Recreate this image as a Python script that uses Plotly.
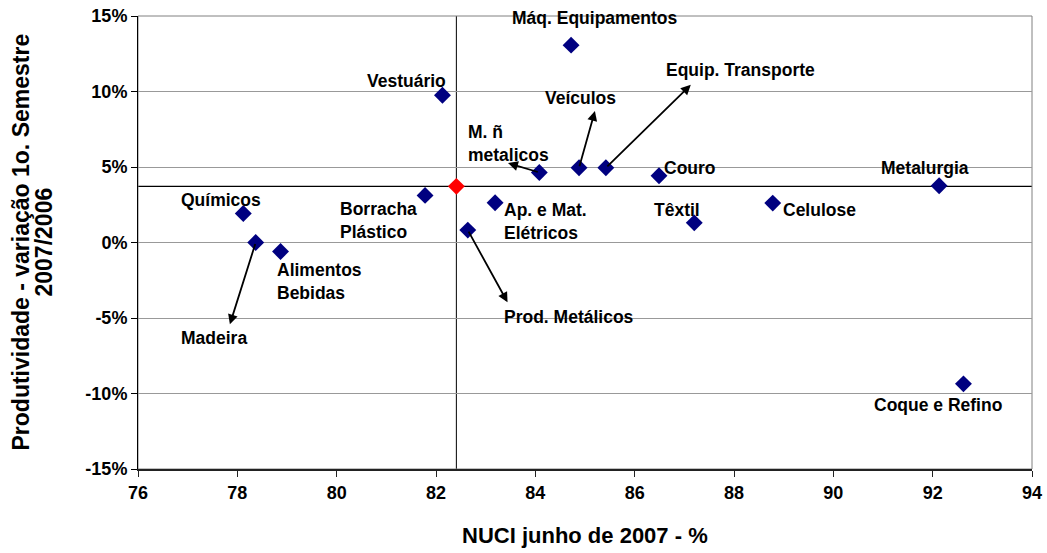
import plotly.graph_objects as go

# sectors: NUCI (x, %) and productivity change (y, %)
sectors = ['Químicos', 'Madeira', 'Alimentos<br>Bebidas', 'Borracha<br>Plástico', 'Vestuário',
           'Prod. Metálicos', 'Ap. e Mat.<br>Elétricos', 'M. ñ<br>metalicos', 'Máq. Equipamentos',
           'Veículos', 'Equip. Transporte', 'Couro', 'Têxtil', 'Celulose', 'Metalurgia',
           'Coque e Refino']
nuci = [78.12, 78.37, 78.87, 81.78, 82.13, 82.64, 83.19, 84.08, 84.72,
        84.88, 85.42, 86.49, 87.20, 88.78, 92.13, 92.62]
produtividade = [1.92, 0.0, -0.6, 3.12, 9.75, 0.82, 2.63, 4.64, 13.07,
                 4.95, 4.95, 4.42, 1.30, 2.61, 3.76, -9.36]

# industry average (red point)
media_x = [82.41]
media_y = [3.72]

# label placement (data units) and anchor
label_x = [77.67, 77.54, 78.76, 80.02, 81.41, 83.32, 83.32, 82.60, 85.21,
           84.90, 88.14, 87.12, 86.85, 89.72, 91.84, 92.11]
label_y = [2.81, -6.30, -2.58, 1.45, 10.72, -4.91, 1.41, 6.54, 14.88,
           9.58, 11.43, 4.93, 2.16, 2.16, 4.91, -10.78]
label_anchor = ['center', 'center', 'left', 'left', 'center', 'left', 'left', 'left', 'center',
                'center', 'center', 'center', 'center', 'center', 'center', 'center']

# arrows: sector index -> arrow head position
arrow_idx = [1, 5, 7, 9, 10]
arrow_head_x = [77.85, 83.44, 83.45, 85.20, 87.13]
arrow_head_y = [-5.42, -3.96, 5.26, 8.71, 10.44]

y_ticks = [-15, -10, -5, 0, 5, 10, 15]
y_ticktext = ['-15%', '-10%', '-5%', '0%', '5%', '10%', '15%']
x_ticks = [76, 78, 80, 82, 84, 86, 88, 90, 92, 94]
x_ticktext = ['76', '78', '80', '82', '84', '86', '88', '90', '92', '94']

FONT = 'Liberation Sans, Arial, sans-serif'

fig = go.Figure()

fig.add_trace(go.Scatter(
    x=nuci, y=produtividade, mode='markers',
    marker=dict(symbol='diamond', size=13, color='#000080'),
    hoverinfo='skip'
))
fig.add_trace(go.Scatter(
    x=media_x, y=media_y, mode='markers',
    marker=dict(symbol='diamond', size=13, color='#FF0000'),
    hoverinfo='skip'
))

# reference lines through the average
fig.add_vline(x=media_x[0], line=dict(color='#000000', width=1), layer='below')
fig.add_hline(y=media_y[0], line=dict(color='#000000', width=1.3), layer='below')

# plot area border
fig.add_shape(type='rect', xref='paper', yref='paper', x0=0, x1=1, y0=0, y1=1,
              line=dict(color='#808080', width=1), layer='below')

for name, lx, ly, anc in zip(sectors, label_x, label_y, label_anchor):
    fig.add_annotation(x=lx, y=ly, text='<b>%s</b>' % name, showarrow=False,
                       xanchor=anc, yanchor='middle', align='left',
                       font=dict(family=FONT, size=17.5, color='#000000'))

for i, hx, hy in zip(arrow_idx, arrow_head_x, arrow_head_y):
    fig.add_annotation(x=hx, y=hy, ax=nuci[i], ay=produtividade[i],
                       xref='x', yref='y', axref='x', ayref='y', text='',
                       showarrow=True, arrowhead=2, arrowsize=1.1, arrowwidth=1.8,
                       arrowcolor='#000000', standoff=0, startstandoff=0)

# axis titles
fig.add_annotation(xref='paper', yref='paper', x=0.5, y=0, yshift=-66, yanchor='middle',
                   text='<b>NUCI junho de 2007 - %</b>', showarrow=False,
                   font=dict(family=FONT, size=22, color='#000000'))
y_title_lines = ['Produtividade - variação 1o. Semestre', '2007/2006']
for line, shift in zip(y_title_lines, [-118, -95]):
    fig.add_annotation(xref='paper', yref='paper', x=0, y=0.5, xshift=shift, xanchor='center',
                       yanchor='middle', textangle=-90, text='<b>%s</b>' % line,
                       showarrow=False, font=dict(family=FONT, size=23, color='#000000'))

fig.update_xaxes(range=[76, 94], tickvals=x_ticks,
                 ticktext=['<b>%s</b>' % t for t in x_ticktext],
                 showgrid=False, zeroline=False, automargin=False,
                 showline=True, linecolor='#222222', linewidth=2,
                 ticks='outside', ticklen=6, tickcolor='#222222',
                 tickfont=dict(family='Liberation Sans', size=18, color='#000000', weight=700))
fig.update_yaxes(range=[-15, 15], tickvals=y_ticks,
                 ticktext=['<b>%s</b>' % t for t in y_ticktext],
                 showgrid=True, gridcolor='#999999', gridwidth=1, zeroline=False,
                 automargin=False,
                 showline=True, linecolor='#000000', linewidth=1,
                 ticks='outside', ticklen=6, tickcolor='#000000',
                 tickfont=dict(family='Liberation Sans', size=18, color='#000000', weight=700))

fig.update_layout(
    width=1047, height=553,
    margin=dict(l=138, r=15, t=16, b=84),
    plot_bgcolor='#FFFFFF', paper_bgcolor='#FFFFFF',
    showlegend=False,
    font=dict(family=FONT)
)

# drop the page's default body margin and scrollbars so the figure fills the window exactly
fig.write_html("out.html", config={'displayModeBar': False},
               post_script="document.body.style.margin = '0'; "
                           "document.body.style.overflow = 'hidden';")
